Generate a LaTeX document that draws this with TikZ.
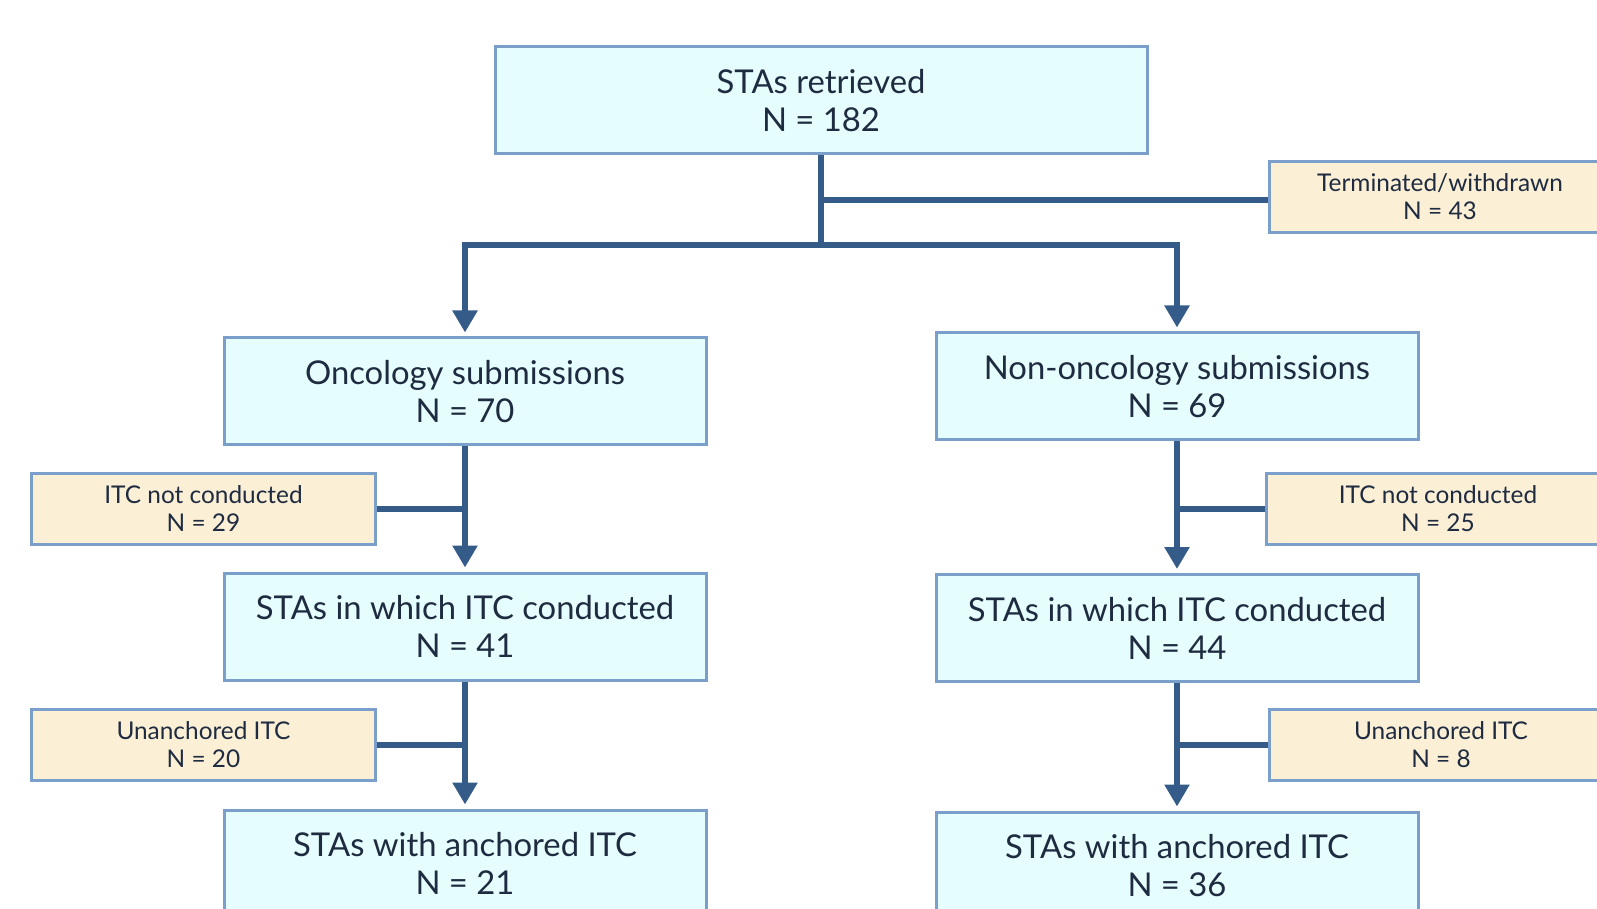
\documentclass[tikz,border=0pt]{standalone}
\usepackage{fontspec}
\setmainfont{Lato}
\usetikzlibrary{arrows.meta}
\definecolor{boxfill}{HTML}{E6FDFD}
\definecolor{tanfill}{HTML}{FBEFD5}
\definecolor{boxborder}{HTML}{7A9FCB}
\definecolor{linecol}{HTML}{355C88}
\definecolor{textcol}{HTML}{1E2B40}
\tikzset{
  mainbox/.style={draw=boxborder, line width=1.5pt, fill=boxfill, text=textcol,
    align=center, inner sep=0pt, minimum height=53.5pt,
    font=\fontsize{16.4}{19}\selectfont},
  sidebox/.style={draw=boxborder, line width=1.5pt, fill=tanfill, text=textcol,
    align=center, inner sep=0pt, minimum height=35.5pt, minimum width=172pt,
    font=\fontsize{12.2}{14}\selectfont},
  conn/.style={draw=linecol, line width=3pt},
  arr/.style={conn, -{Triangle[width=12pt,length=11pt]}, shorten >=2pt},
}
\begin{document}
\begin{tikzpicture}[x=0.5pt,y=-0.5pt]
\useasboundingbox (0,0) rectangle (1597,909);
\clip (0,0) rectangle (1597,909);
\fill[white] (0,0) rectangle (1597,909);

\node[mainbox, minimum width=326pt] (top) at (821,100.5) {STAs retrieved\\N = 182};
\node[sidebox, minimum width=171pt] (term) at (1440,197) {Terminated/withdrawn\\N = 43};

\node[mainbox, minimum width=241pt] (onc) at (465,391.5) {Oncology submissions\\N = 70};
\node[mainbox, minimum width=241pt] (non) at (1177,386.5) {Non-oncology submissions\\N = 69};

\node[sidebox] (nl) at (203.5,508.5) {ITC not conducted\\N = 29};
\node[sidebox] (nr) at (1438,508.5) {ITC not conducted\\N = 25};

\node[mainbox, minimum width=241pt] (itcl) at (465,626.5) {STAs in which ITC conducted\\N = 41};
\node[mainbox, minimum width=241pt] (itcr) at (1177,628) {STAs in which ITC conducted\\N = 44};

\node[sidebox] (ul) at (203.5,744.5) {Unanchored ITC\\N = 20};
\node[sidebox] (ur) at (1441,744.5) {Unanchored ITC\\N = 8};

\node[mainbox, minimum width=241pt] (al) at (465,863.5) {STAs with anchored ITC\\N = 21};
\node[mainbox, minimum width=241pt] (ar) at (1177,865.5) {STAs with anchored ITC\\N = 36};

% top split
\coordinate (j1) at (821,245);
\coordinate (jl) at (465,245);
\coordinate (jr) at (1177,245);
\coordinate (jt) at (821,200);
\draw[conn] (top.south) -- (j1);
\draw[conn] (jt) -- (jt -| term.west);
\draw[conn, line cap=rect] (jl) -- (jr);
\draw[arr] (jl) -- (onc.north);
\draw[arr] (jr) -- (non.north);

% left column
\draw[arr] (onc.south) -- (itcl.north);
\draw[conn] (nl.east) -- (onc.south |- nl.east);
\draw[arr] (itcl.south) -- (al.north);
\draw[conn] (ul.east) -- (itcl.south |- ul.east);

% right column
\draw[arr] (non.south) -- (itcr.north);
\draw[conn] (nr.west) -- (non.south |- nr.west);
\draw[arr] (itcr.south) -- (ar.north);
\draw[conn] (ur.west) -- (itcr.south |- ur.west);
\end{tikzpicture}
\end{document}
